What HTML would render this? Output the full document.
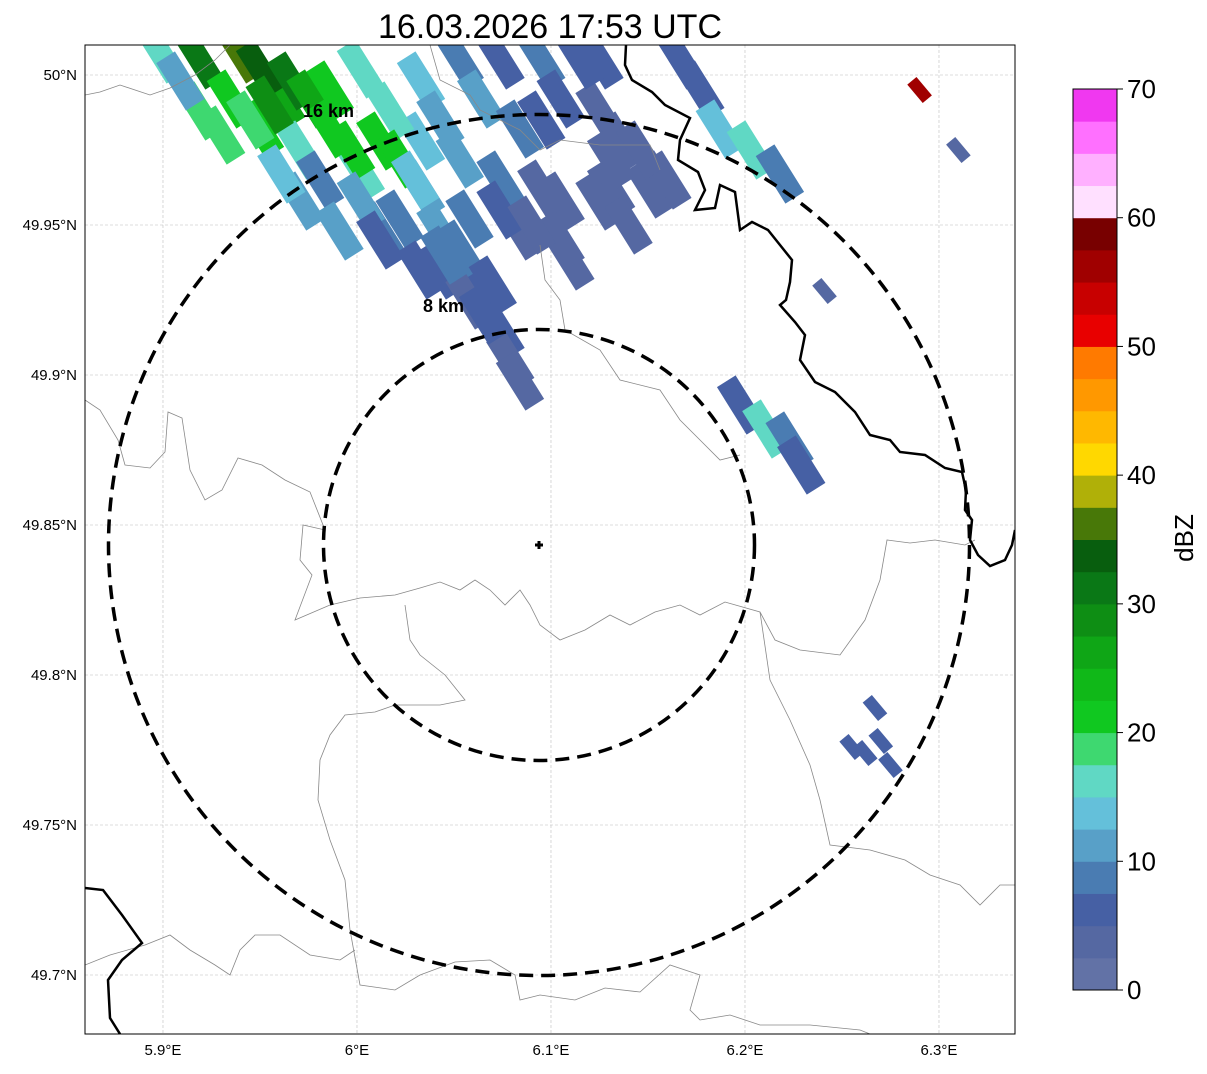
<!DOCTYPE html>
<html><head><meta charset="utf-8"><style>
body{margin:0;background:#fff;width:1207px;height:1069px;overflow:hidden;font-family:"Liberation Sans","DejaVu Sans",sans-serif}
</style></head><body>
<svg width="1207" height="1069" xmlns="http://www.w3.org/2000/svg">
<defs><clipPath id="pc"><rect x="85" y="45" width="930" height="989"/></clipPath></defs>
<text x="550" y="38" font-size="34" text-anchor="middle" font-family="Liberation Sans, sans-serif">16.03.2026 17:53 UTC</text>
<g id="grid"></g>
<g id="echoes" clip-path="url(#pc)"></g>
<g clip-path="url(#pc)" fill="none">
<polyline stroke="#888" stroke-width="0.8" points="85,95 100,92 120,85 150,95 170,88 195,75 215,60 230,45"/>
<polyline stroke="#888" stroke-width="0.8" points="85,400 100,410 118,440 125,465 150,468 165,452 168,412 182,418 190,470 205,500 222,490 238,458 262,465 285,480 310,492 325,530 303,525 300,560 312,575 295,620 330,605 360,598 395,595 420,588 440,582 460,590 475,580 490,590 505,605 520,590 530,605 540,625 560,640 585,630 610,615 630,625 655,612 680,605 700,615 725,602 760,612 775,640 800,650 840,655 865,620 880,580 887,540 910,543 935,540 965,545 975,540"/>
<polyline stroke="#888" stroke-width="0.8" points="405,605 410,640 420,655 445,675 465,700 440,705 395,705 375,712 345,715 330,735 320,760 318,800 330,840 345,880 350,930 360,985 395,990 420,975 455,962 490,960 515,975 520,1000 540,995 575,1000 605,988 640,992 670,965 700,975 690,1010 700,1020 730,1015 760,1025 810,1025 860,1030 870,1034"/>
<polyline stroke="#888" stroke-width="0.8" points="85,965 110,955 145,945 170,935 190,950 215,965 230,975 240,950 255,935 280,935 310,955 340,960 355,950"/>
<polyline stroke="#888" stroke-width="0.8" points="760,612 770,680 790,720 810,765 820,800 830,845 870,850 905,860 930,875 960,885 980,905 1000,885 1015,885"/>
<polyline stroke="#888" stroke-width="0.8" points="430,45 440,80 470,95 480,110 520,130 540,150 560,140 600,145 650,145 660,170"/>
<polyline stroke="#888" stroke-width="0.8" points="540,245 545,280 560,300 565,330 600,350 620,380 660,390 680,420 700,440 720,460 740,455"/>
<polyline stroke="#000" stroke-width="2.5" points="626,45 625,65 632,80 652,92 665,105 690,118 680,140 678,160 698,172 705,190 695,210 715,208 720,185 735,192 740,230 752,222 768,230 780,245 792,260 790,282 786,300 780,305 795,322 805,335 800,360 815,382 835,392 855,412 870,435 890,440 900,452 925,455 945,468 962,472 966,490 965,510 972,520 970,540 978,555 990,566 1005,560 1012,545 1015,530"/>
<polyline stroke="#000" stroke-width="2.5" points="85,888 103,890 122,915 142,943 122,960 108,980 110,1018 120,1034"/>
</g>
<g fill="none" stroke="#000" stroke-width="3.5" stroke-dasharray="14,8">
<circle cx="539" cy="545" r="215.5"/>
<circle cx="539" cy="545" r="430.5"/>
</g>
<path d="M535 545 H543 M539 541 V549" stroke="#000" stroke-width="3"/>
<text x="303" y="117" font-size="18" font-weight="bold">16 km</text>
<text x="423" y="312" font-size="18" font-weight="bold">8 km</text>
<rect x="85" y="45" width="930" height="989" fill="none" stroke="#000" stroke-width="1"/>
<g id="ticks" font-size="15"></g>
<g id="cbar"></g>
<text x="1195" y="540" font-size="26" text-anchor="middle" transform="rotate(-90 1193 540)">dBZ</text>
</svg>
<script>
const lonTicks=[5.9,6.0,6.1,6.2,6.3];
const lonLabels=["5.9°E","6°E","6.1°E","6.2°E","6.3°E"];
const latTicks=[50.0,49.95,49.9,49.85,49.8,49.75,49.7];
const latLabels=["50°N","49.95°N","49.9°N","49.85°N","49.8°N","49.75°N","49.7°N"];
const cbTicks=[0,10,20,30,40,50,60,70];
const cbColors=["#6272a6","#5568a2","#4660a4","#4a7cb2","#58a0c8","#64c0da","#60d8c4","#3ed870","#10c820","#10b818","#0fa616","#0e8e14","#0a7816","#085e0e","#487808","#b0b008","#ffd800","#ffb800","#ff9800","#ff7a00","#e80000","#c80000","#a00000","#780000","#ffe0ff","#ffb0ff","#ff70ff","#f038f0"];
const echoLon=[6.074,6.095,6.125,6.095,6.125,6.110,6.156,6.131,6.105,6.084,6.058,6.064,6.043,6.012,6.033,5.971,6.002,6.074,6.053,6.033,6.017,5.986,5.961,5.950,5.919,
5.919,5.940,5.950,5.966,5.976,5.935,5.945,5.986,5.997,6.012,6.022,5.971,5.899,5.909,
6.002,6.033,6.053,6.064,5.981,6.002,6.022,6.043,6.012,6.033,6.053,6.074,6.095,6.125,6.151,6.105,6.058,6.074,6.079,6.084,6.043,6.084,6.105,6.115,6.136,5.961,5.991,5.930,5.955,6.030,6.070,6.090,6.140,6.160,6.045,6.065,
6.167,6.177,6.187,6.203,6.218,6.146,6.131,6.198,6.211,6.223,6.229];
const echoLat=[50.005,50.005,50.005,49.985,49.988,49.938,49.965,49.962,49.958,49.948,49.952,49.928,49.935,49.948,49.962,49.958,49.968,49.965,49.972,49.978,49.988,49.995,49.992,49.982,49.988,
50.005,50.007,50.002,49.998,49.992,49.992,49.985,49.982,49.975,49.978,49.972,49.975,50.007,49.998,
50.002,49.998,50.005,49.992,49.965,49.958,49.952,49.948,49.945,49.935,49.942,49.955,49.962,49.958,49.962,49.945,49.925,49.915,49.905,49.898,49.985,49.982,49.992,50.005,49.978,49.967,49.948,49.980,49.990,49.965,49.930,49.950,49.950,49.965,49.940,49.920,
50.005,49.995,49.982,49.975,49.967,49.975,49.972,49.890,49.882,49.878,49.870];
const echoDbz=[5,8,5,6,4,3,3,3,3,4,8,5,5,8,12,12,15,8,12,13,15,20,25,22,18,
30,36,33,30,26,20,18,22,20,22,21,16,17,12,
15,14,8,10,8,12,9,10,5,5,8,5,3,3,3,3,3,5,3,3,12,8,5,5,3,14,10,19,28,13,6,4,3,3,9,5,
5,5,13,16,8,3,3,5,15,8,5];
const smallLon=[6.310,6.241,6.290,6.267,6.270,6.262,6.255,6.275];
const smallLat=[49.975,49.928,49.995,49.789,49.778,49.774,49.776,49.770];
const smallDbz=[3,3,55,5,5,5,5,5];
const X=lon=>85+(lon-5.8598)*1940, Y=lat=>45+(50.01-lat)*3000;
const ns="http://www.w3.org/2000/svg";
function mk(t,a,p){const e=document.createElementNS(ns,t);for(const k in a)e.setAttribute(k,a[k]);p.appendChild(e);return e;}
const grid=document.getElementById('grid'),ticks=document.getElementById('ticks');
lonTicks.forEach((v,i)=>{const x=X(v);
const l=mk('line',{x1:x,x2:x,y1:45,y2:1034,stroke:'#bbb','stroke-width':0.6,'stroke-dasharray':'3,2'},grid);


const t=mk('text',{x:x,y:1055,'text-anchor':'middle'},ticks);t.textContent=lonLabels[i];

});
latTicks.forEach((v,i)=>{const y=Y(v);
const l=mk('line',{x1:85,x2:1015,y1:y,y2:y,stroke:'#bbb','stroke-width':0.6,'stroke-dasharray':'3,2'},grid);


const t=mk('text',{x:77,y:y+5,'text-anchor':'end'},ticks);t.textContent=latLabels[i];

});
const ech=document.getElementById('echoes');
const col=d=>cbColors[Math.max(0,Math.min(27,Math.floor(d/2.5)))];
echoLon.forEach((lo,i)=>{const x=X(lo),y=Y(echoLat[i]);
const w=22,h=56;
const r=mk('rect',{x:x-w/2,y:y-h/2,width:w,height:h,fill:col(echoDbz[i]),transform:`rotate(-32 ${x} ${y})`},ech);

});
smallLon.forEach((lo,i)=>{const x=X(lo),y=Y(smallLat[i]);
const w=12,h=24;
const r=mk('rect',{x:x-w/2,y:y-h/2,width:w,height:h,fill:col(smallDbz[i]),transform:`rotate(-40 ${x} ${y})`},ech);

});
const cb=document.getElementById('cbar');const cbTop=89,cbBot=990,cbH=(cbBot-cbTop)/28;
cbColors.forEach((c,i)=>{const r=mk('rect',{x:1073,y:cbBot-(i+1)*cbH,width:44,height:cbH+0.5,fill:c},cb);

});
mk('rect',{x:1073,y:cbTop,width:44,height:cbBot-cbTop,fill:'none',stroke:'#000','stroke-width':1},cb);
cbTicks.forEach(v=>{const y=cbBot-v/70*(cbBot-cbTop);
mk('line',{x1:1117,x2:1123,y1:y,y2:y,stroke:'#000'},cb);
const t=mk('text',{x:1127,y:y+9,'font-size':26},cb);t.textContent=v;

});
</script>
</body></html>
